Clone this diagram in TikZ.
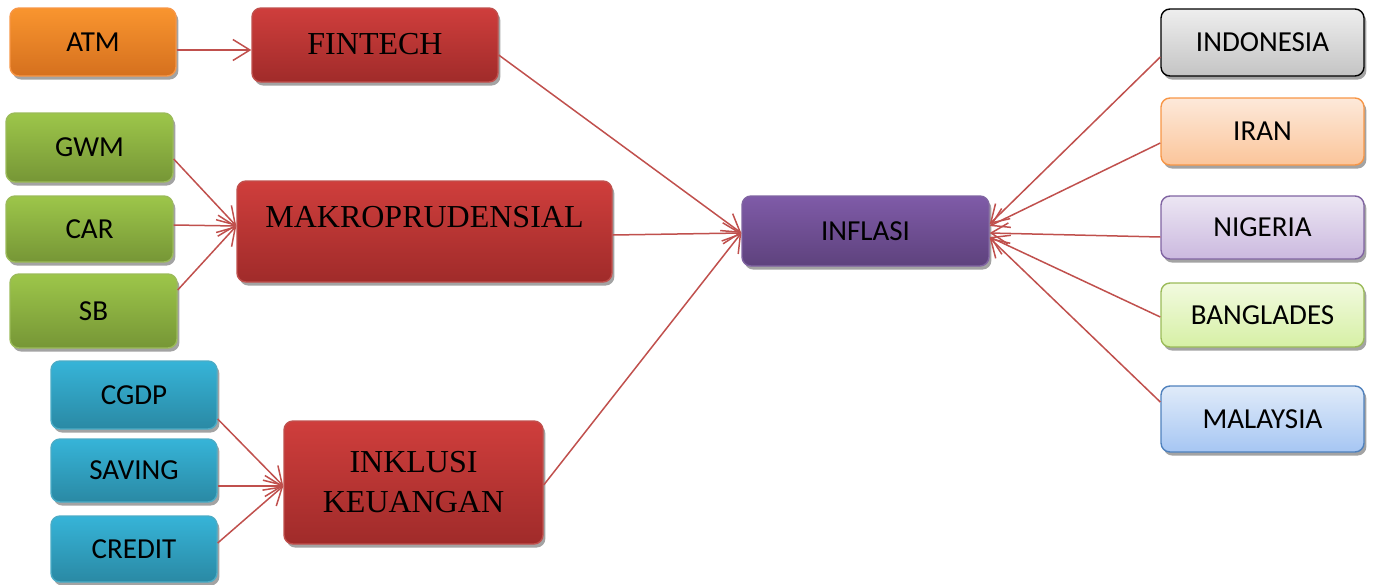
\documentclass[tikz,border=0pt]{standalone}
\usepackage{fontspec}
\setmainfont{Liberation Serif}
\newfontfamily\calfont{Carlito}
\usetikzlibrary{arrows.meta,shadows}
\definecolor{arrowred}{HTML}{C0504D}
\definecolor{orT}{HTML}{F9952F}\definecolor{orB}{HTML}{D5701E}\definecolor{orD}{HTML}{F79646}
\definecolor{rdT}{HTML}{CF3E3C}\definecolor{rdB}{HTML}{A02B2A}\definecolor{rdD}{HTML}{C0504D}
\definecolor{grT}{HTML}{9DC64A}\definecolor{grB}{HTML}{769636}\definecolor{grD}{HTML}{9BBB59}
\definecolor{blT}{HTML}{36B4D8}\definecolor{blB}{HTML}{2A89A4}\definecolor{blD}{HTML}{4BACC6}
\definecolor{puT}{HTML}{7F5BA8}\definecolor{puB}{HTML}{5E427D}\definecolor{puD}{HTML}{8064A2}
\definecolor{gyT}{HTML}{EEEEEE}\definecolor{gyB}{HTML}{C4C4C4}
\definecolor{irT}{HTML}{FDE9DA}\definecolor{irB}{HTML}{FBC59A}
\definecolor{niT}{HTML}{ECE6F3}\definecolor{niB}{HTML}{CBB9DF}
\definecolor{bgT}{HTML}{F2FADF}\definecolor{bgB}{HTML}{D6F0A5}
\definecolor{myT}{HTML}{E0EBF9}\definecolor{myB}{HTML}{A6C6F3}\definecolor{myD}{HTML}{4F81BD}
\tikzset{
  base/.style={rounded corners=4.5pt, inner sep=0pt, line width=0.7pt,
    drop shadow={shadow xshift=1.2pt, shadow yshift=-1.8pt, fill=black!45, opacity=0.8}},
  smallbox/.style={base, font=\calfont\fontsize{14.5}{16}\selectfont},
  bigbox/.style={base, draw=rdD, top color=rdT, bottom color=rdB, font=\fontsize{16}{20}\selectfont, align=center},
  orbox/.style={smallbox, draw=orD, top color=orT, bottom color=orB},
  grbox/.style={smallbox, draw=grD, top color=grT, bottom color=grB},
  blbox/.style={smallbox, draw=blD, top color=blT, bottom color=blB},
  pubox/.style={smallbox, draw=puD, top color=puT, bottom color=puB},
  cobox/.style={smallbox, minimum width=101.5pt},
  conn/.style={draw=arrowred, line width=0.75pt, -{Straight Barb[length=8.5pt,width=10.5pt,line width=0.75pt]}}
}
\begin{document}
\begin{tikzpicture}[x=0.5pt,y=-0.5pt]
\useasboundingbox (0,0) rectangle (1376,584);
% left column
\node[orbox, minimum width=83pt, minimum height=34pt] (atm) at (93,42) {ATM};
\node[grbox, minimum width=83.5pt, minimum height=34.5pt] (gwm) at (89.5,147.5) {GWM};
\node[grbox, minimum width=83.5pt, minimum height=33pt] (car) at (89.5,229) {CAR};
\node[grbox, minimum width=83.5pt, minimum height=37pt] (sb) at (93.5,311) {SB};
\node[blbox, minimum width=83pt, minimum height=34pt] (cgdp) at (134,395) {CGDP};
\node[blbox, minimum width=83pt, minimum height=31.5pt] (saving) at (134,470.5) {SAVING};
\node[blbox, minimum width=83pt, minimum height=33pt] (credit) at (134,549) {CREDIT};
% red boxes
\node[bigbox, minimum width=123pt, minimum height=37pt] (fin) at (375,45) {\raisebox{1.5pt}{FINTECH}};
\node[bigbox, minimum width=187.5pt, minimum height=50.5pt] (mak) at (424.5,231.5) {\raisebox{2pt}[0pt][0pt]{MAKROPRUDENSIAL}};
\node[bigbox, minimum width=129.5pt, minimum height=61.5pt] (ink) at (413.5,482.5) {INKLUSI\\KEUANGAN};
% centre
\node[pubox, minimum width=123.5pt, minimum height=35pt] (inf) at (865.5,231) {INFLASI};
% countries
\node[cobox, draw=black, top color=gyT, bottom color=gyB, minimum height=33.5pt] (ind) at (1262.5,42.5) {INDONESIA};
\node[cobox, draw=orD, top color=irT, bottom color=irB, minimum height=33.5pt] (iran) at (1262.5,131.5) {IRAN};
\node[cobox, draw=puD, top color=niT, bottom color=niB, minimum height=31.5pt] (nig) at (1262.5,227.5) {NIGERIA};
\node[cobox, draw=grD, top color=bgT, bottom color=bgB, minimum height=32pt] (ban) at (1262.5,315) {BANGLADES};
\node[cobox, draw=myD, top color=myT, bottom color=myB, minimum height=33pt] (mal) at (1262.5,419) {MALAYSIA};
% connectors
\draw[conn] ([yshift=-4pt]atm.east) -- ([yshift=-2.5pt]fin.west);
\draw[conn] ([yshift=-5.75pt]gwm.east) -- ([yshift=2.75pt]mak.west);
\draw[conn] ([yshift=2pt]car.east) -- ([yshift=2.75pt]mak.west);
\draw[conn] ([yshift=10.5pt]sb.east) -- ([yshift=2.75pt]mak.west);
\draw[conn] ([yshift=-12pt]cgdp.east) -- ([yshift=-1.75pt]ink.west);
\draw[conn] ([yshift=-7.75pt]saving.east) -- ([yshift=-1.75pt]ink.west);
\draw[conn] ([yshift=3pt]credit.east) -- ([yshift=-1.75pt]ink.west);
\draw[conn] ([yshift=-5pt]fin.east) -- ([yshift=-1pt]inf.west);
\draw[conn] ([yshift=-1.75pt]mak.east) -- ([yshift=-1pt]inf.west);
\draw[conn] ([yshift=-1.25pt]ink.east) -- ([yshift=-1pt]inf.west);
\draw[conn] ([yshift=-7.25pt]ind.west) -- ([yshift=3.5pt]inf.east);
\draw[conn] ([yshift=-5.75pt]iran.west) -- ([yshift=2.5pt]inf.east);
\draw[conn] ([yshift=-4.75pt]nig.west) -- ([yshift=-1pt]inf.east);
\draw[conn] ([yshift=-1pt]ban.west) -- ([yshift=-3pt]inf.east);
\draw[conn] ([yshift=8.5pt]mal.west) -- ([yshift=-3.5pt]inf.east);
\end{tikzpicture}
\end{document}
